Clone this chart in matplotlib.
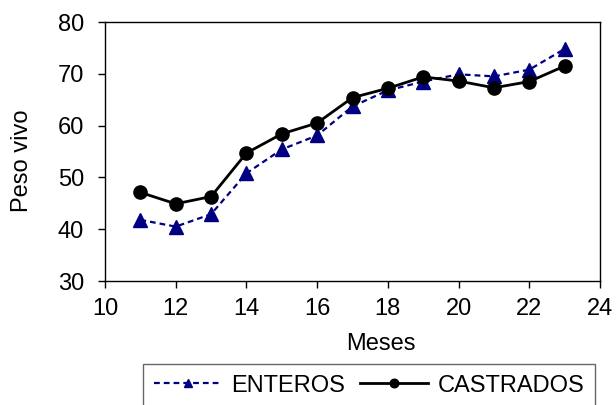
import matplotlib.pyplot as plt

plt.rcParams['font.family'] = ['Liberation Sans', 'DejaVu Sans']

meses = [11, 12, 13, 14, 15, 16, 17, 18, 19, 20, 21, 22, 23]
enteros = [41.8, 40.5, 42.9, 50.8, 55.4, 58.1, 63.7, 66.8, 68.5, 69.9, 69.5, 70.8, 74.8]
castrados = [47.1, 44.9, 46.3, 54.7, 58.4, 60.5, 65.4, 67.2, 69.4, 68.6, 67.3, 68.5, 71.5]

fig = plt.figure(figsize=(6.16, 4.05), dpi=100)
ax = fig.add_axes([105/616, 1 - 281/405, 495/616, 259/405])

ax.plot(meses, enteros, color='#000080', linestyle='--', linewidth=1.6,
        marker='^', markersize=9.5, label='ENTEROS', dashes=(2.6, 1.8))
ax.plot(meses, castrados, color='black', linestyle='-', linewidth=2,
        marker='o', markersize=9.5, label='CASTRADOS')

ax.set_xlim(10, 24)
ax.set_ylim(30, 80)
ax.set_xticks(range(10, 25, 2))
ax.set_yticks(range(30, 81, 10))
ax.tick_params(labelsize=17, direction='out', length=5, width=1)
ax.tick_params(axis='y', pad=10)
ax.tick_params(axis='x', pad=7)
for s in ax.spines.values():
    s.set_linewidth(1)
ax.set_xlabel('Meses', fontsize=17, va='top')
ax.set_ylabel('Peso vivo', fontsize=17)
ax.xaxis.set_label_coords(0.557, -0.201)
ax.yaxis.set_label_coords(-0.146, 0.463)

leg = fig.legend(loc='upper left', bbox_to_anchor=(143/616, 1 - 364/405), ncol=2,
                 fontsize=17, frameon=True, fancybox=False, edgecolor='#404040',
                 handlelength=2.9, columnspacing=0.6, handletextpad=0.4,
                 borderpad=0.45, borderaxespad=0, markerscale=0.65)
leg.get_frame().set_linewidth(1)

fig.savefig('out.png', dpi=100)
